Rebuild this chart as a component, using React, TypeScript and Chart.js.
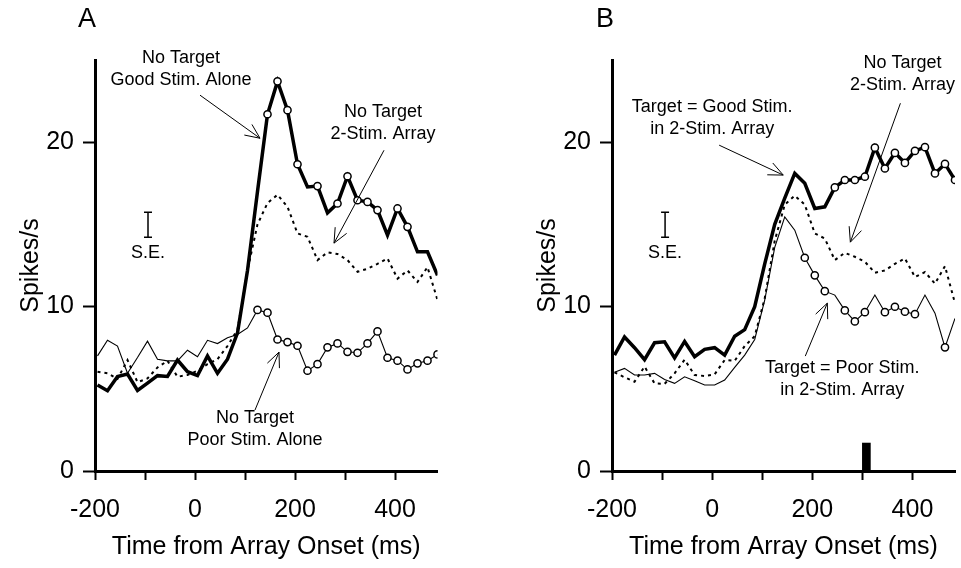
import React, { useEffect, useRef } from "react";
import { Chart, registerables } from "chart.js";

Chart.register(...registerables);

// Bin centres (ms from array onset)
const times = [-195, -175, -155, -135, -115, -95, -75, -55, -35, -15, 5, 25, 45, 65, 85, 105, 125, 145, 165, 185, 205, 225, 245, 265, 285, 305, 325, 345, 365, 385, 405, 425, 445, 465, 485];

// Panel A
const aGoodAlone = [5.23, 4.88, 5.75, 5.9, 4.9, 5.35, 5.8, 5.75, 6.75, 6.04, 5.8, 7.0, 5.94, 6.8, 8.4, 12.2, 17.0, 21.7, 23.7, 21.95, 18.66, 17.28, 17.33, 15.7, 16.27, 17.93, 16.47, 16.37, 15.87, 14.35, 15.97, 14.85, 13.33, 13.33, 11.9];
const aTwoStim = [6.04, 5.94, 5.6, 6.75, 5.4, 5.63, 6.3, 6.7, 5.73, 5.84, 6.1, 6.5, 6.8, 7.6, 8.6, 12.2, 15.0, 16.3, 16.8, 16.07, 14.45, 14.25, 12.83, 13.3, 13.2, 12.83, 12.12, 12.3, 12.6, 12.93, 11.7, 12.2, 11.5, 12.4, 10.4];
const aPoorAlone = [7.0, 7.95, 7.6, 5.95, 6.9, 7.9, 6.8, 6.7, 6.7, 7.35, 6.95, 7.95, 7.75, 8.1, 8.3, 8.7, 9.8, 9.63, 8.0, 7.84, 7.62, 6.1, 6.5, 7.52, 7.76, 7.25, 7.19, 7.76, 8.49, 6.89, 6.71, 6.18, 6.55, 6.71, 7.09];
const aGoodAloneCircles = [145, 165, 185, 205, 245, 285, 305, 325, 345, 365, 405, 425];
const aPoorAloneCircles = [125, 145, 165, 185, 205, 225, 245, 265, 285, 305, 325, 345, 365, 385, 405, 425, 445, 465, 485];

// Panel B
const bGoodTarget = [7.05, 8.15, 7.5, 6.77, 7.8, 7.86, 6.88, 7.88, 6.95, 7.4, 7.5, 7.05, 8.2, 8.6, 10.0, 12.6, 15.0, 16.6, 18.1, 17.5, 15.97, 16.07, 17.25, 17.7, 17.7, 17.9, 19.67, 18.4, 19.35, 18.74, 19.47, 19.7, 18.1, 18.68, 17.7];
const bTwoStim = [6.0, 5.7, 5.43, 6.35, 5.33, 5.3, 5.94, 6.77, 5.84, 5.78, 5.88, 6.75, 6.7, 7.6, 8.2, 10.5, 14.0, 16.2, 16.75, 16.2, 14.45, 14.14, 12.83, 13.27, 13.03, 12.73, 12.06, 12.2, 12.6, 12.93, 11.8, 12.1, 11.4, 12.46, 10.2];
const bPoorTarget = [6.0, 6.24, 5.84, 5.84, 5.94, 5.57, 5.33, 5.73, 5.49, 5.23, 5.23, 5.53, 6.3, 7.05, 8.0, 10.4, 13.6, 15.46, 14.65, 12.97, 11.9, 10.94, 10.7, 9.77, 9.1, 9.66, 10.7, 9.66, 9.99, 9.69, 9.54, 10.7, 9.6, 7.52, 9.28];
const bGoodTargetCircles = [245, 265, 285, 305, 325, 345, 365, 385, 405, 425, 445, 465, 485];
const bPoorTargetCircles = [185, 205, 225, 265, 285, 305, 345, 365, 385, 405, 465];
const bMarkerTime = [308];
const bMarkerHeight = [1.7];

// Axes
const yTicks = [0, 10, 20];
const xTicks = [-200, -100, 0, 100, 200, 300, 400];
const xLabelled = [-200, 0, 200, 400];

const FONT = '"Liberation Sans", Arial, Helvetica, sans-serif';

type Ann = {
  label: string;
  labelAt: [number, number];
  texts: { lines: string[]; at: [number, number] }[];
  arrows: { from: [number, number]; to: [number, number] }[];
  se: { t: number; lo: number; hi: number; textV: number };
};

const annA: Ann = {
  label: "A",
  labelAt: [-216, 27.45],
  texts: [
    { lines: ["No Target", "Good Stim. Alone"], at: [-28, 25.1] },
    { lines: ["No Target", "2-Stim. Array"], at: [376, 21.82] },
    { lines: ["No Target", "Poor Stim. Alone"], at: [120, 3.22] },
  ],
  arrows: [
    { from: [10, 22.86], to: [130, 20.24] },
    { from: [378, 19.51], to: [278, 13.86] },
    { from: [120, 3.71], to: [168, 7.23] },
  ],
  se: { t: -94, lo: 14.22, hi: 15.74, textV: 13.25 },
};

const annB: Ann = {
  label: "B",
  labelAt: [-214, 27.45],
  texts: [
    { lines: ["Target = Good Stim.", "in 2-Stim. Array"], at: [0, 22.13] },
    { lines: ["No Target", "2-Stim. Array"], at: [380, 24.8] },
    { lines: ["Target = Poor Stim.", "in 2-Stim. Array"], at: [260, 6.26] },
  ],
  arrows: [
    { from: [14, 19.82], to: [142, 18.0] },
    { from: [376, 22.37], to: [276, 13.92] },
    { from: [186, 6.99], to: [230, 10.21] },
  ],
  se: { t: -94, lo: 14.22, hi: 15.74, textV: 13.25 },
};

function pts(vals: number[]) {
  return times.map((t, i) => ({ x: t, y: vals[i] }));
}
function radii(circles: number[]) {
  return times.map((t) => (circles.includes(t) ? 3.6 : 0));
}

function annotationPlugin(ann: Ann) {
  return {
    id: "annotations",
    afterDraw(chart: any) {
      const ctx = chart.ctx as CanvasRenderingContext2D;
      const xs = chart.scales.x;
      const ys = chart.scales.y;
      const px = (t: number) => xs.getPixelForValue(t);
      const py = (v: number) => ys.getPixelForValue(v);
      ctx.save();
      ctx.fillStyle = "#000";
      ctx.strokeStyle = "#000";
      ctx.textAlign = "center";
      ctx.textBaseline = "middle";
      // panel letter
      ctx.font = `27px ${FONT}`;
      ctx.fillText(ann.label, px(ann.labelAt[0]), py(ann.labelAt[1]));
      // texts
      ctx.font = `18px ${FONT}`;
      for (const tb of ann.texts) {
        tb.lines.forEach((ln, i) => {
          ctx.fillText(ln, px(tb.at[0]), py(tb.at[1]) + i * 22);
        });
      }
      // arrows
      ctx.lineWidth = 1;
      for (const a of ann.arrows) {
        const x1 = px(a.from[0]);
        const y1 = py(a.from[1]);
        const x2 = px(a.to[0]);
        const y2 = py(a.to[1]);
        ctx.beginPath();
        ctx.moveTo(x1, y1);
        ctx.lineTo(x2, y2);
        const ang = Math.atan2(y2 - y1, x2 - x1);
        const L = 16;
        const sp = 0.42;
        ctx.moveTo(x2 - L * Math.cos(ang - sp), y2 - L * Math.sin(ang - sp));
        ctx.lineTo(x2, y2);
        ctx.lineTo(x2 - L * Math.cos(ang + sp), y2 - L * Math.sin(ang + sp));
        ctx.stroke();
      }
      // S.E. bar
      const sx = px(ann.se.t);
      const sy1 = py(ann.se.lo);
      const sy2 = py(ann.se.hi);
      ctx.lineWidth = 1.5;
      ctx.beginPath();
      ctx.moveTo(sx, sy1);
      ctx.lineTo(sx, sy2);
      ctx.moveTo(sx - 4, sy1);
      ctx.lineTo(sx + 4, sy1);
      ctx.moveTo(sx - 4, sy2);
      ctx.lineTo(sx + 4, sy2);
      ctx.stroke();
      ctx.font = `18px ${FONT}`;
      ctx.fillText("S.E.", sx, py(ann.se.textV));
      ctx.restore();
    },
  };
}

function makeConfig(panel: "A" | "B") {
  const isA = panel === "A";
  const thick = isA ? aGoodAlone : bGoodTarget;
  const thickC = isA ? aGoodAloneCircles : bGoodTargetCircles;
  const dotted = isA ? aTwoStim : bTwoStim;
  const thin = isA ? aPoorAlone : bPoorTarget;
  const thinC = isA ? aPoorAloneCircles : bPoorTargetCircles;
  const ann = isA ? annA : annB;

  const datasets: any[] = [
    {
      type: "line",
      data: pts(thick),
      borderColor: "#000",
      borderWidth: 3.5,
      pointRadius: radii(thickC),
      pointBackgroundColor: "#fff",
      pointBorderColor: "#000",
      pointBorderWidth: 1.5,
      tension: 0,
      fill: false,
    },
    {
      type: "line",
      data: pts(thin),
      borderColor: "#000",
      borderWidth: 1.1,
      pointRadius: radii(thinC),
      pointBackgroundColor: "#fff",
      pointBorderColor: "#000",
      pointBorderWidth: 1.5,
      tension: 0,
      fill: false,
    },
    {
      type: "line",
      data: pts(dotted),
      borderColor: "#000",
      borderWidth: 2,
      borderDash: [3, 4],
      pointRadius: 0,
      tension: 0,
      fill: false,
    },
  ];
  if (!isA) {
    datasets.push({
      type: "bar",
      data: bMarkerTime.map((t, i) => ({ x: t, y: bMarkerHeight[i] })),
      backgroundColor: "#000",
      borderWidth: 0,
      barThickness: 8,
    });
  }

  return {
    type: "line",
    data: { datasets },
    options: {
      responsive: false,
      animation: false,
      events: [],
      layout: { padding: { left: 0, top: 60, right: isA ? 42.5 : 6, bottom: 0 } },
      plugins: { legend: { display: false }, tooltip: { enabled: false } },
      scales: {
        x: {
          type: "linear",
          min: -200,
          max: 485,
          offset: false,
          afterFit: (s: any) => {
            s.height = 97;
          },
          afterBuildTicks: (s: any) => {
            s.ticks = xTicks.map((v) => ({ value: v }));
          },
          ticks: {
            autoSkip: false,
            maxRotation: 0,
            padding: 15,
            color: "#000",
            font: { family: FONT, size: 25 },
            callback: (v: any) => (xLabelled.includes(Number(v)) ? String(v) : ""),
          },
          grid: {
            offset: false,
            drawOnChartArea: false,
            drawTicks: true,
            tickLength: 9,
            tickWidth: 2,
            tickColor: "#000",
            color: "#000",
          },
          border: { display: true, color: "#000", width: 3 },
          title: {
            display: true,
            text: "Time from Array Onset (ms)",
            color: "#000",
            font: { family: FONT, size: 25 },
            padding: { top: 0, bottom: 6 },
          },
        },
        y: {
          type: "linear",
          min: 0,
          max: 25,
          afterFit: (s: any) => {
            s.width = isA ? 95 : 132;
          },
          afterBuildTicks: (s: any) => {
            s.ticks = yTicks.map((v) => ({ value: v }));
          },
          ticks: {
            padding: 9,
            color: "#000",
            font: { family: FONT, size: 25 },
          },
          grid: {
            drawOnChartArea: false,
            drawTicks: true,
            tickLength: 12,
            tickWidth: 2,
            tickColor: "#000",
            color: "#000",
          },
          border: { display: true, color: "#000", width: 3 },
          title: {
            display: true,
            text: "Spikes/s",
            color: "#000",
            font: { family: FONT, size: 25 },
            padding: { top: isA ? 16 : 53, bottom: 0 },
          },
        },
      },
    },
    plugins: [annotationPlugin(ann)],
  };
}

function Panel({ panel, left, width }: { panel: "A" | "B"; left: number; width: number }) {
  const ref = useRef<HTMLCanvasElement | null>(null);
  useEffect(() => {
    if (!ref.current) return;
    const chart = new Chart(ref.current, makeConfig(panel) as any);
    return () => chart.destroy();
  }, [panel]);
  return (
    <canvas
      ref={ref}
      width={width}
      height={568}
      style={{ position: "absolute", left, top: 0, width, height: 568, display: "block" }}
    />
  );
}

export default function App() {
  return (
    <div style={{ position: "absolute", left: 0, top: 0, width: 961, height: 568, background: "#fff", overflow: "hidden" }}>
      <Panel panel="A" left={0} width={480} />
      <Panel panel="B" left={480} width={481} />
    </div>
  );
}
